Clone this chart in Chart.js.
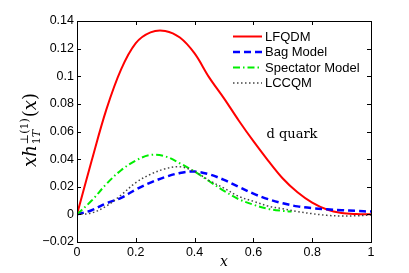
<!DOCTYPE html>
<html>
<head>
<meta charset="utf-8">
<script src="https://cdn.jsdelivr.net/npm/chart.js@4.4.0/dist/chart.umd.min.js"></script>
<style>
html,body{margin:0;padding:0;background:#fff;}
#wrap{width:409px;height:273px;position:relative;}
</style>
</head>
<body>
<div id="wrap"><canvas id="c" width="409" height="273"></canvas></div>
<script>
const xValues = [0,0.05,0.1,0.15,0.2,0.25,0.3,0.35,0.4,0.45,0.5,0.55,0.6,0.65,0.7,0.75,0.8,0.85,0.9,0.95,1.0];
const lfqdm  = [0,0.039,0.076,0.105,0.124,0.1318,0.1328,0.128,0.1165,0.099,0.084,0.068,0.053,0.039,0.026,0.016,0.0085,0.0035,0.001,0.0002,0];
const bagModel = [0,0.003,0.008,0.012,0.018,0.023,0.027,0.030,0.031,0.029,0.025,0.020,0.015,0.011,0.008,0.0058,0.0045,0.0037,0.003,0.0025,0.002];
const spectatorX = [0,0.05,0.1,0.15,0.2,0.25,0.3,0.35,0.4,0.45,0.5,0.55,0.6,0.65,0.7,0.73];
const spectator = [0,0.010,0.022,0.032,0.039,0.043,0.042,0.037,0.031,0.024,0.017,0.011,0.007,0.004,0.0025,0.002];
const lccqm = [0,0.001,0.006,0.014,0.023,0.029,0.033,0.0345,0.031,0.0245,0.019,0.013,0.0095,0.006,0.004,0.002,0.0005,-0.0007,-0.0012,-0.001,-0.0005];
const seriesNames = ['LFQDM','Bag Model','Spectator Model','LCCQM'];
const xTicks = [0,0.2,0.4,0.6,0.8,1];
const yTicks = [-0.02,0,0.02,0.04,0.06,0.08,0.1,0.12,0.14];

function pts(xs, ys){ return xs.map((x,i)=>({x:x,y:ys[i]})); }
function fmt(v){ return String(Number(v.toFixed(2))).replace('-', '\u2212'); }

const SANS = '"Liberation Sans", Arial, sans-serif';
const SERIF = '"DejaVu Serif", serif';

const decor = {
  id:'decor',
  afterDraw(chart){
    const ctx = chart.ctx, a = chart.chartArea;
    const xs = chart.scales.x, ys = chart.scales.y;
    ctx.save();
    ctx.strokeStyle = '#000'; ctx.lineWidth = 1;
    ctx.strokeRect(Math.round(a.left)+0.5, Math.round(a.top)+0.5, Math.round(a.right-a.left), Math.round(a.bottom-a.top));
    ctx.beginPath();
    xTicks.forEach(v=>{
      const px = Math.round(xs.getPixelForValue(v))+0.5;
      ctx.moveTo(px, a.bottom); ctx.lineTo(px, a.bottom-4);
      ctx.moveTo(px, a.top); ctx.lineTo(px, a.top+4);
    });
    yTicks.forEach(v=>{
      const py = Math.round(ys.getPixelForValue(v))+0.5;
      ctx.moveTo(a.left, py); ctx.lineTo(a.left+4, py);
      ctx.moveTo(a.right, py); ctx.lineTo(a.right-4, py);
    });
    ctx.stroke();

    const ds = chart.data.datasets;
    const rows = [36.5, 52, 67.5, 83];
    ctx.font = '13px ' + SANS;
    ctx.textBaseline = 'middle';
    ctx.textAlign = 'left';
    ds.forEach((d,i)=>{
      const y = rows[i];
      ctx.beginPath();
      ctx.strokeStyle = d.borderColor;
      ctx.lineWidth = d.borderWidth;
      ctx.setLineDash(d.borderDash || []);
      ctx.moveTo(233, y); ctx.lineTo(262, y);
      ctx.stroke();
      ctx.setLineDash([]);
      ctx.fillStyle = '#000';
      ctx.fillText(d.label, 265, y+0.5);
    });

    ctx.font = '13px ' + SERIF;
    ctx.textAlign = 'center';
    ctx.textBaseline = 'alphabetic';
    ctx.fillStyle = '#000';
    ctx.fillText('d quark', 292, 138);

    ctx.font = 'italic 14px ' + SERIF;
    ctx.fillText('x', 224, 266);

    ctx.translate(36, 130);
    ctx.rotate(-Math.PI/2);
    ctx.textAlign = 'left';
    const mainI = 'italic 18px ' + SERIF, mainR = '18px ' + SERIF;
    const scrR = '11px ' + SERIF, scrI = 'italic 11px ' + SERIF;
    const m = (f,t)=>{ ctx.font=f; return ctx.measureText(t).width; };
    const w1 = m(mainI,'xh');
    const wsup = m(scrR,'\u22A5(1)');
    const wsub = m(scrR,'1') + m(scrI,'T');
    const ws = Math.max(wsup, wsub);
    const w3 = m(mainR,'(') + m(mainI,'x') + m(mainR,')');
    let x = -(w1 + ws + 2 + w3)/2;
    ctx.font = mainI; ctx.fillText('xh', x, 0); x += w1 + 1;
    ctx.font = scrR; ctx.fillText('\u22A5(1)', x, -8);
    ctx.font = scrR; ctx.fillText('1', x, 4);
    const w1s = m(scrR,'1');
    ctx.font = scrI; ctx.fillText('T', x + w1s, 4);
    x += ws + 1;
    ctx.font = mainR; ctx.fillText('(', x, 0); x += m(mainR,'(');
    ctx.font = mainI; ctx.fillText('x', x, 0); x += m(mainI,'x');
    ctx.font = mainR; ctx.fillText(')', x, 0);
    ctx.restore();
  }
};

const common = {pointRadius:0, fill:false, tension:0.35};
new Chart(document.getElementById('c'), {
  type:'line',
  data:{
    datasets:[
      Object.assign({label:seriesNames[0], data:pts(xValues,lfqdm), borderColor:'#ff0000', borderWidth:2, order:4}, common),
      Object.assign({label:seriesNames[1], data:pts(xValues,bagModel), borderColor:'#0000ff', borderWidth:2.5, borderDash:[7,4], order:3}, common),
      Object.assign({label:seriesNames[2], data:pts(spectatorX,spectator), borderColor:'#00ee00', borderWidth:2, borderDash:[7,3,1.5,3], order:2}, common),
      Object.assign({label:seriesNames[3], data:pts(xValues,lccqm), borderColor:'#444444', borderWidth:1.5, borderDash:[1.5,2.5], order:1}, common)
    ]
  },
  options:{
    responsive:false,
    animation:false,
    devicePixelRatio:1,
    layout:{padding:{left:0,right:38,top:21,bottom:0}},
    plugins:{legend:{display:false}, tooltip:{enabled:false}},
    scales:{
      x:{
        type:'linear', min:0, max:1,
        afterBuildTicks(s){ s.ticks = xTicks.map(v=>({value:v})); },
        afterFit(s){ s.height = 31; },
        grid:{display:false, drawTicks:false, tickLength:0},
        border:{display:false},
        ticks:{color:'#000', font:{family:SANS, size:12.5}, padding:3, maxRotation:0, autoSkip:false, callback:(v)=>fmt(v)}
      },
      y:{
        type:'linear', min:-0.02, max:0.14,
        afterBuildTicks(s){ s.ticks = yTicks.map(v=>({value:v})); },
        afterFit(s){ s.width = 77; },
        grid:{display:false, drawTicks:false, tickLength:0},
        border:{display:false},
        ticks:{color:'#000', font:{family:SANS, size:12.5}, padding:3, autoSkip:false, callback:(v)=>fmt(v)}
      }
    }
  },
  plugins:[decor]
});
</script>
</body>
</html>
